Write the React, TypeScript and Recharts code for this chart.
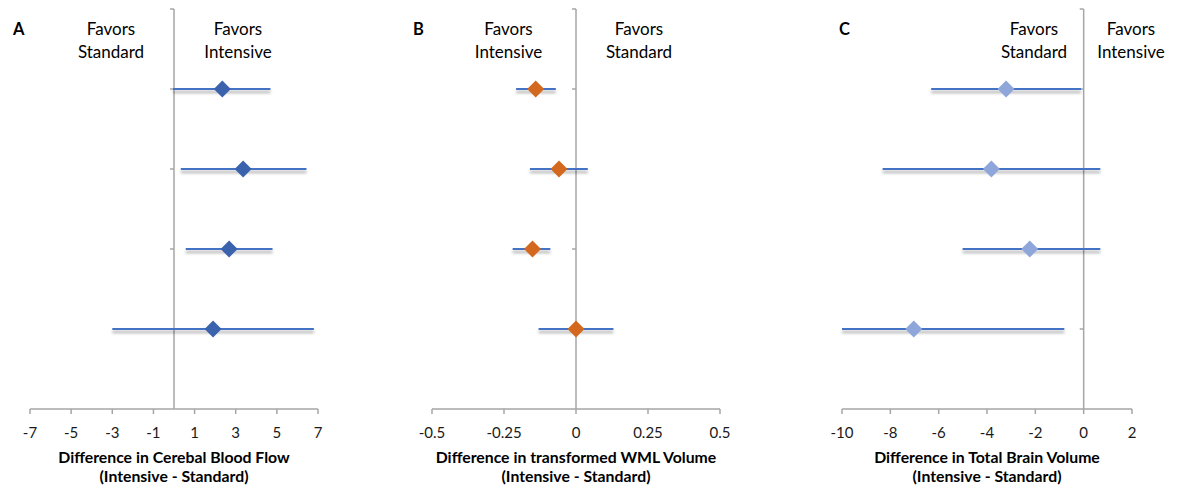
import React from "react";
import { ScatterChart, Scatter, XAxis, YAxis, ErrorBar, ReferenceLine } from "recharts";

// rows on the y value axis (top to bottom)
const rows = [4, 3, 2, 1];

// A: cerebral blood flow
const cbfEst = [2.35, 3.36, 2.68, 1.9];
const cbfLow = [-0.05, 0.33, 0.57, -3.0];
const cbfHigh = [4.69, 6.44, 4.79, 6.8];
const cbfTicks = [-7, -5, -3, -1, 1, 3, 5, 7];

// B: transformed WML volume
const wmlEst = [-0.14, -0.059, -0.151, 0.0];
const wmlLow = [-0.208, -0.16, -0.22, -0.13];
const wmlHigh = [-0.07, 0.041, -0.089, 0.13];
const wmlTicks = [-0.5, -0.25, 0, 0.25, 0.5];

// C: total brain volume
const tbvEst = [-3.21, -3.82, -2.23, -7.03];
const tbvLow = [-6.31, -8.32, -5.01, -10.0];
const tbvHigh = [-0.11, 0.69, 0.69, -0.8];
const tbvTicks = [-10, -8, -6, -4, -2, 0, 2];

const AXIS = "#a6a6a6";
const LINE = "#4472c4";
const FONT = "Lato, 'Noto Sans', sans-serif";

const build = (est: number[], lo: number[], hi: number[]) =>
    rows.map((y, i) => ({ y, x: est[i], err: [est[i] - lo[i], hi[i] - est[i]] }));

const Diamond = (props: any) => {
    const { cx, cy, fill } = props;
    const r = 8.5;
    return <polygon points={`${cx},${cy - r} ${cx + r},${cy} ${cx},${cy + r} ${cx - r},${cy}`} fill={fill} />;
};

interface PanelProps {
    plotLeft: number;
    plotWidth: number;
    domain: [number, number];
    ticks: number[];
    data: { y: number; x: number; err: number[] }[];
    color: string;
}

function Panel({ plotLeft, plotWidth, domain, ticks, data, color }: PanelProps) {
    const pad = 30;
    const tickLen = (4 * (domain[1] - domain[0])) / plotWidth;
    return (
        <div style={{ position: "absolute", left: plotLeft - pad, top: 0 }}>
            <ScatterChart
                width={plotWidth + pad * 2}
                height={493}
                margin={{ top: 9, right: pad, bottom: 0, left: pad }}
            >
                <XAxis
                    type="number"
                    dataKey="x"
                    domain={domain}
                    ticks={ticks}
                    allowDataOverflow
                    height={84}
                    stroke={AXIS}
                    axisLine={{ stroke: AXIS, strokeWidth: 1.5 }}
                    tickLine={{ stroke: AXIS, strokeWidth: 1.5 }}
                    tickSize={5}
                    tickMargin={13}
                    tick={{ fill: "#1a1a1a", fontSize: 15 }}
                />
                <YAxis type="number" dataKey="y" domain={[0, 5]} hide />
                <ReferenceLine x={0} stroke={AXIS} strokeWidth={1.5} />
                {[1, 2, 3, 4, 5].map((v) => (
                    <ReferenceLine
                        key={v}
                        segment={[{ x: -tickLen, y: v }, { x: 0, y: v }]}
                        stroke={AXIS}
                        strokeWidth={1.5}
                        ifOverflow="visible"
                    />
                ))}
                <Scatter data={data} fill={color} shape={<Diamond />} isAnimationActive={false}>
                    <ErrorBar dataKey="err" direction="x" width={0} stroke={LINE} strokeWidth={2} />
                </Scatter>
            </ScatterChart>
        </div>
    );
}

export default function App() {
    const txt = { fontFamily: FONT, fill: "#000" };
    return (
        <div style={{ position: "absolute", left: 0, top: 0, width: 1180, height: 493, background: "#fff", fontFamily: FONT }}>
            <style>{`.recharts-errorBar { filter: drop-shadow(0px 3px 1.5px rgba(0,0,0,0.35)); }`}</style>
            <Panel plotLeft={30} plotWidth={288} domain={[-7, 7]} ticks={cbfTicks} data={build(cbfEst, cbfLow, cbfHigh)} color="#3a62ad" />
            <Panel plotLeft={432} plotWidth={288} domain={[-0.5, 0.5]} ticks={wmlTicks} data={build(wmlEst, wmlLow, wmlHigh)} color="#d2691f" />
            <Panel plotLeft={842} plotWidth={290} domain={[-10, 2]} ticks={tbvTicks} data={build(tbvEst, tbvLow, tbvHigh)} color="#8ea6d9" />

            <svg width={1180} height={493} style={{ position: "absolute", left: 0, top: 0, pointerEvents: "none" }}>
                {/* panel letters */}
                <text x={13} y={35} fontSize={16.5} fontWeight="bold" style={txt}>A</text>
                <text x={413} y={35} fontSize={16.5} fontWeight="bold" style={txt}>B</text>
                <text x={839} y={35} fontSize={16.5} fontWeight="bold" style={txt}>C</text>

                {/* favors labels */}
                {[
                    [111, "Standard"],
                    [238, "Intensive"],
                    [508.5, "Intensive"],
                    [639, "Standard"],
                    [1034, "Standard"],
                    [1131, "Intensive"],
                ].map(([x, w], i) => (
                    <text key={i} x={x as number} textAnchor="middle" fontSize={17} style={txt}>
                        <tspan x={x as number} y={35}>Favors</tspan>
                        <tspan x={x as number} y={57.5}>{w}</tspan>
                    </text>
                ))}

                {/* axis titles */}
                {[
                    [174, "Difference in Cerebal Blood Flow"],
                    [576, "Difference in transformed WML Volume"],
                    [987, "Difference in Total Brain Volume"],
                ].map(([x, t], i) => (
                    <text key={i} x={x as number} textAnchor="middle" fontSize={15.8} fontWeight="bold" style={txt}>
                        <tspan x={x as number} y={463}>{t}</tspan>
                        <tspan x={x as number} y={482}>(Intensive - Standard)</tspan>
                    </text>
                ))}
            </svg>
        </div>
    );
}
